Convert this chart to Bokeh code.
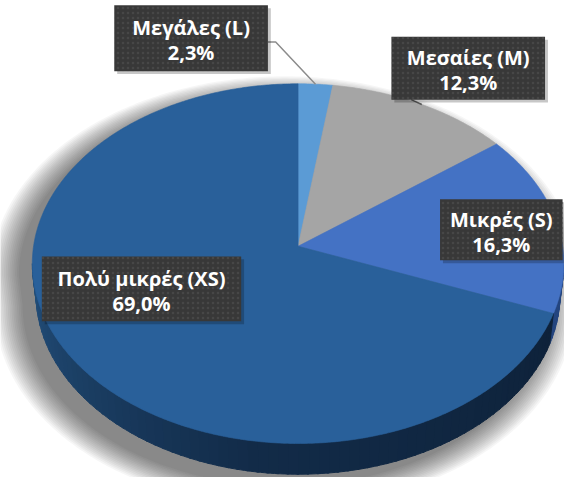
import numpy as np
from bokeh.plotting import figure
from bokeh.models import ColumnDataSource
from bokeh.core.properties import value
from bokeh.embed import file_html
from bokeh.resources import INLINE

# ---- data ----
categories = ["Μεγάλες (L)", "Μεσαίες (M)", "Μικρές (S)", "Πολύ μικρές (XS)"]
values = [2.3, 12.3, 16.3, 69.0]
pct_labels = [("%.1f%%" % v).replace(".", ",") for v in values]

# ---- styles ----
top_colors = ["#5B9BD5", "#A5A5A5", "#4472C4", "#29609A"]
side_colors = ["#3A6E9E", "#6E6E6E", "#24457F", "#173B60"]
# label box centres / sizes (reference px)
box_cx = [196, 481, 515, 145]
box_cy = [39, 70, 237, 298]
box_w = [158, 158, 126, 205]
box_h = [68, 65, 63, 67]

W, H = 564, 477
RW, RH = 580, 493   # drawing space (reference pixels)

CX, CY = 306, 254
S = 272
SINPHI = 0.677
COSPHI = np.sqrt(1 - SINPHI ** 2)
K = 0.0967
RHO = K / COSPHI
T = 0.16


def proj(theta_deg, t=0.0):
    th = np.radians(theta_deg)
    u = np.sin(th)
    v = np.cos(th)
    depth = 1 + t * RHO * SINPHI + K * v
    sx = S * u / depth
    sy = S * (v * SINPHI - t * COSPHI) / depth
    return CX + sx, -(CY - sy)


p = figure(width=W, height=H, x_range=(0, RW), y_range=(-RH, 0),
           output_backend="svg", toolbar_location=None,
           x_axis_location=None, y_axis_location=None, min_border=0)
p.grid.visible = False
p.outline_line_color = None
p.background_fill_color = "white"
p.border_fill_color = "white"

SIL_R = np.degrees(np.arccos(-K))   # right silhouette angle
SIL_L = 360 - SIL_R

# ---- shadow ----
top_arc = np.linspace(SIL_L, 360 + SIL_R, 200)
bot_arc = np.linspace(SIL_R, SIL_L, 200)
tx, ty = proj(top_arc, 0.0)
bx, by = proj(bot_arc, T)
sil_x = np.concatenate([tx, bx])
sil_y = np.concatenate([ty, by])
ccx, ccy = CX, -(CY + 20)
for i in range(16):
    f = 1.0 + 0.007 * i
    p.patch(ccx + (sil_x - ccx) * f - 14, ccy + (sil_y - ccy) * f - 12,
            fill_color="black", fill_alpha=0.035, line_color=None)

# ---- slices ----
cum = np.concatenate([[0], np.cumsum(values)]) / np.sum(values) * 360.0
for i in range(len(values)):
    a0, a1 = cum[i], cum[i + 1]
    lo, hi = max(a0, SIL_R), min(a1, SIL_L)
    if hi > lo:
        n = max(2, int((hi - lo) / 2))
        edges = np.linspace(lo, hi, n + 1)
        for j in range(n):
            e0, e1 = edges[j], edges[j + 1]
            arc = np.linspace(e0, min(e1 + 0.4, hi), 4)
            x0, y0 = proj(arc, 0.0)
            x1, y1 = proj(arc[::-1], T)
            if i == 3:
                fr = (SIL_L - (e0 + e1) / 2) / (SIL_L - SIL_R)
                c0 = np.array([34, 78, 122])
                c1 = np.array([18, 43, 72])
                c2 = np.array([13, 32, 55])
                if fr < 0.45:
                    c = c0 + (c1 - c0) * fr / 0.45
                else:
                    c = c1 + (c2 - c1) * (fr - 0.45) / 0.55
                col = "#%02x%02x%02x" % tuple(int(round(q)) for q in c)
            else:
                col = side_colors[i]
            p.patch(np.concatenate([x0, x1]), np.concatenate([y0, y1]),
                    fill_color=col, line_color=col, line_width=1.0)
    arc = np.linspace(a0, a1, max(3, int((a1 - a0) * 2)))
    ax, ay = proj(arc, 0.0)
    xs = np.concatenate([[CX], ax])
    ys = np.concatenate([[-CY], ay])
    p.patch(xs, ys, fill_color=top_colors[i], line_color=top_colors[i], line_width=0.6)

# ---- leader lines ----
mid = (cum[:-1] + cum[1:]) / 2
mx, my = proj(mid, 0.0)
p.line([box_cx[0] + box_w[0] / 2, box_cx[0] + box_w[0] / 2 + 8, mx[0]],
       [-43, -43, my[0]], line_color="#8c8c8c", line_width=1.5)
p.line([mx[1] - 11, mx[1]], [-(box_cy[1] + box_h[1] / 2), my[1]],
       line_color="#555555", line_width=1.5)

# ---- label boxes ----
p.rect(x=[x + 3 for x in box_cx], y=[-v - 3 for v in box_cy], width=box_w, height=box_h,
       fill_color="black", fill_alpha=0.22, line_color=None)
bsrc = ColumnDataSource(dict(x=box_cx, y=[-v for v in box_cy], w=box_w, h=box_h))
p.rect(x="x", y="y", width="w", height="h", source=bsrc, fill_color="#383838",
       line_color=None, hatch_pattern="dot", hatch_color="#474747",
       hatch_scale=5, hatch_weight=1)

tsrc = ColumnDataSource(dict(
    x=box_cx + box_cx,
    y=[-(c - 11) for c in box_cy] + [-(c + 15) for c in box_cy],
    t=categories + pct_labels))
p.text(x="x", y="y", text="t", source=tsrc, text_font=value("Open Sans"),
       text_font_style="bold", text_font_size="20px", text_color="white",
       text_align="center", text_baseline="middle")

open("out.html", "w").write(file_html(p, INLINE))
